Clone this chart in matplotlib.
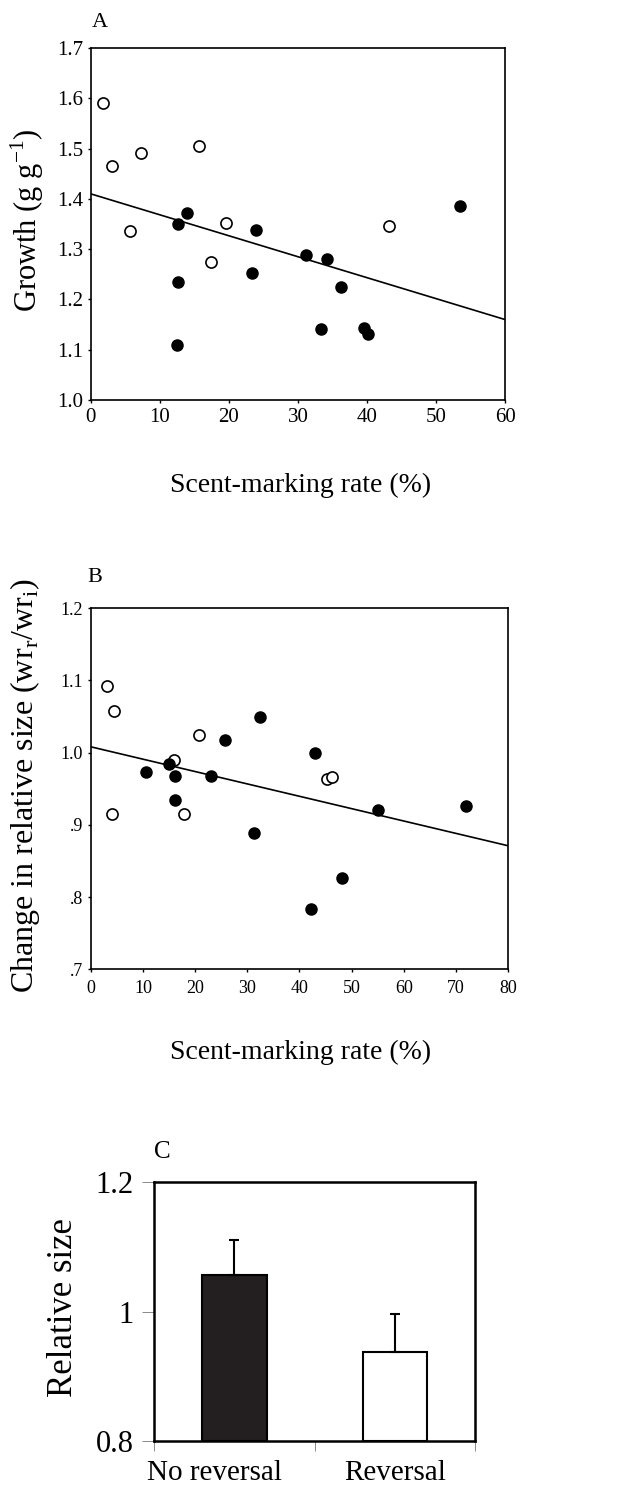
import numpy as np
import matplotlib
matplotlib.use("Agg")
import matplotlib.pyplot as plt
from matplotlib.ticker import FixedLocator
from matplotlib.transforms import ScaledTranslation

plt.rcParams['font.family'] = ['Liberation Serif', 'DejaVu Serif']
plt.rcParams['mathtext.fontset'] = 'custom'
plt.rcParams['mathtext.rm'] = 'Liberation Serif'

# Panel A: growth vs scent-marking rate
a_open_x = [1.8, 3.1, 7.3, 5.7, 15.7, 17.4, 19.6, 43.2]
a_open_y = [1.591, 1.465, 1.491, 1.337, 1.505, 1.274, 1.353, 1.346]
a_fill_x = [12.7, 14.0, 12.7, 12.5, 23.9, 23.3, 31.2, 34.2, 36.3, 33.3, 39.5, 40.1, 53.5]
a_fill_y = [1.351, 1.372, 1.235, 1.110, 1.338, 1.253, 1.289, 1.281, 1.225, 1.141, 1.143, 1.132, 1.385]
a_fit = (1.41, -0.25 / 60)   # intercept, slope
a_yticks = [1.0, 1.1, 1.2, 1.3, 1.4, 1.5, 1.6, 1.7]
a_xticks = [0, 10, 20, 30, 40, 50, 60]

# Panel B: change in relative size vs scent-marking rate
b_open_x = [3.1, 4.5, 4.0, 15.9, 20.8, 17.8, 45.3, 46.3]
b_open_y = [1.092, 1.057, 0.915, 0.990, 1.024, 0.915, 0.964, 0.966]
b_fill_x = [10.6, 15.0, 16.1, 16.1, 23.1, 25.8, 32.5, 31.2, 42.9, 42.2, 48.1, 55.1, 71.9]
b_fill_y = [0.973, 0.984, 0.967, 0.934, 0.968, 1.018, 1.049, 0.889, 0.999, 0.783, 0.827, 0.921, 0.926]
b_fit = (1.008, -0.137 / 80)
b_yticks = [0.7, 0.8, 0.9, 1.0, 1.1, 1.2]
b_yticklabels = ['.7', '.8', '.9', '1.0', '1.1', '1.2']
b_xticks = [0, 10, 20, 30, 40, 50, 60, 70, 80]

# Panel C: relative size by group
c_groups = ['No reversal', 'Reversal']
c_means = [1.056, 0.938]
c_err = [0.055, 0.058]

fig = plt.figure(figsize=(6.24, 14.86), dpi=100)


def scatter_panel(ax, ox, oy, fx, fy, fit, xmax):
    ax.plot(ox, oy, 'o', ms=8, mfc='white', mec='black', mew=1.2, ls='none', zorder=3)
    ax.plot(fx, fy, 'o', ms=8, mfc='black', mec='black', ls='none', zorder=3)
    xs = np.array([0, xmax])
    ax.plot(xs, fit[0] + fit[1] * xs, color='black', lw=1.2, zorder=2)
    ax.set_xlim(0, xmax)
    for s in ax.spines.values():
        s.set_linewidth(1.2)
    ax.tick_params(direction='out', length=2.5, width=1, labelsize=14, pad=3)


axA = fig.add_axes([0.1454, 0.7308, 0.664, 0.2369])
scatter_panel(axA, a_open_x, a_open_y, a_fill_x, a_fill_y, a_fit, 60)
axA.set_ylim(1.0, 1.7)
axA.set_yticks(a_yticks)
axA.set_yticklabels([f'{v:.1f}' for v in a_yticks])
axA.set_xticks(a_xticks)
axA.tick_params(labelsize=15)
fig.text(0.160, 0.985, 'A', fontsize=16, ha='center', va='center')
fig.text(0.481, 0.6736, 'Scent-marking rate (%)', fontsize=20, ha='center', va='center')
fig.text(0.043, 0.852, 'Growth (g g$^{-1}$)', fontsize=22, rotation=90, ha='center', va='center')

axB = fig.add_axes([0.1454, 0.3477, 0.669, 0.2431])
scatter_panel(axB, b_open_x, b_open_y, b_fill_x, b_fill_y, b_fit, 80)
axB.set_ylim(0.7, 1.2)
axB.set_yticks(b_yticks)
axB.set_yticklabels(b_yticklabels)
axB.set_xticks(b_xticks)
axB.tick_params(labelsize=13)
axB.tick_params(axis='x', pad=5)
fig.text(0.152, 0.6117, 'B', fontsize=16, ha='center', va='center')
fig.text(0.481, 0.2921, 'Scent-marking rate (%)', fontsize=20, ha='center', va='center')
fig.text(0.040, 0.471, 'Change in relative size (wr$_\\mathrm{r}$/wr$_\\mathrm{i}$)', fontsize=23,
         rotation=90, ha='center', va='center')

axC = fig.add_axes([0.2473, 0.0303, 0.514, 0.1741])
xpos = np.arange(len(c_groups)) + 0.5
axC.bar(xpos[0], c_means[0] - 0.8, bottom=0.8, width=0.41, color='#231f20',
        edgecolor='black', lw=1.5, zorder=2)
axC.bar(xpos[1], c_means[1] - 0.8, bottom=0.8, width=0.40, color='white',
        edgecolor='black', lw=1.5, zorder=2)
axC.errorbar(xpos, c_means, yerr=[[0, 0], c_err], fmt='none', ecolor='black',
             elinewidth=1.5, capsize=3.5, capthick=1.5, zorder=3)
axC.set_xlim(0, 2)
axC.set_ylim(0.8, 1.2)
axC.set_yticks([0.8, 1.0, 1.2])
axC.set_yticklabels(['0.8', '1', '1.2'])
axC.set_xticks(xpos)
axC.set_xticklabels(c_groups)
axC.xaxis.set_minor_locator(FixedLocator([0, 1, 2]))
axC.tick_params(axis='x', which='major', length=0, labelsize=21, pad=14)
axC.tick_params(axis='x', which='minor', length=7, width=0.6, color='#777777')
axC.tick_params(axis='y', length=9, width=0.6, color='#777777', labelsize=22, pad=6)
lab = axC.get_xticklabels()[0]
lab.set_transform(lab.get_transform() + ScaledTranslation(-0.2, 0, fig.dpi_scale_trans))
for s in axC.spines.values():
    s.set_linewidth(1.8)
fig.text(0.260, 0.2248, 'C', fontsize=18, ha='center', va='center')
fig.text(0.101, 0.120, 'Relative size', fontsize=25, rotation=90, ha='center', va='center')

fig.savefig('out.png', dpi=100)
